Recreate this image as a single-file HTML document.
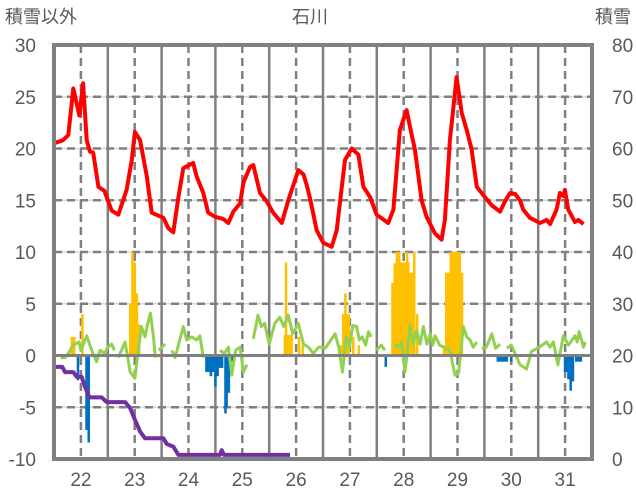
<!DOCTYPE html>
<html><head><meta charset="utf-8">
<style>
body{margin:0;background:#fff;}
svg{display:block;font-family:"Liberation Sans","Noto Sans CJK JP",sans-serif;}
</style></head>
<body>
<svg id="chart" width="636" height="501" viewBox="0 0 636 501">
<g id="grid"></g>
<g id="bars"></g>
<g id="lines"></g>
<g id="axes"></g>
<text x="310" y="23" font-size="18" fill="#595959" text-anchor="middle">石川</text>
<text x="5" y="23" font-size="18" fill="#595959">積雪以外</text>
<text x="631" y="23" font-size="18" fill="#595959" text-anchor="end">積雪</text>
</svg>
<script>
const leftTicks=[30,25,20,15,10,5,0,-5,-10];
const rightTicks=[80,70,60,50,40,30,20,10,0];
const dayLabels=["22","23","24","25","26","27","28","29","30","31"];
// red line: [hour, value]
const redHours=[0,4,6.4,8.6,11.3,13,14.6,16,17.5,19.8,22.5,25.7,28.7,32.4,34.7,36.1,38.4,41.4,43.6,48.8,51,53.2,55.5,57.7,62.1,63.6,66.6,68.8,71.8,75.5,77.8,80,83,84.5,87.4,88.9,91.9,94.9,97.8,101.6,104.5,109,111.3,112.7,114.2,117.2,120.1,123.9,126.1,129.8,132.8,135.8,138,141,143.9,149.1,151.4,154.3,157.3,158.8,161,164,166.2,169.9,172.9,174.4,176.6,179.6,181.9,184.1,186.3,188.6,191.5,195.3,199,201.2,203.4,205.7,207.9,209.3,212.3,216.8,219.7,221.3,224.2,225.7,227.2,227.9,229.4,232.4,233.9,236.2];
const redValues=[20.5,20.8,21.3,25.8,23.2,26.3,20.8,19.7,19.6,16.3,15.9,14,13.6,16,18.9,21.6,20.8,17.3,13.8,13.3,12.3,11.9,15.3,18.1,18.6,17.3,15.7,13.8,13.4,13.2,12.8,13.9,14.7,16.7,18.2,18.4,15.7,14.9,13.8,12.8,15,17.9,17.5,16.5,15.2,12.1,10.9,10.5,12.1,18.9,20,19.4,16.3,15.3,13.6,12.8,14.1,21.8,23.7,22.1,19.9,15,13.4,11.8,11.2,13.1,20.8,26.9,23.4,21.8,19.9,16.3,15.5,14.5,13.9,14.9,15.7,15.6,15,14.1,13.3,12.8,13.1,12.7,14.1,15.7,15.4,16,14.1,12.9,13.1,12.7];
// green line (null = gap)
const greenHours=[3,5,6.4,8.5,11.2,12,14.6,16.8,19,20.5,22.7,24,25.7,27,27.5,28.7,31.7,34,36.1,37.6,39,40.6,41.5,43,44.4,45.2,45.9,46.7,49.6,51,52.6,54,57.7,59.2,61.4,63.6,65.1,66.6,70,74,76,77.8,79.3,81,83,84.5,86,87.4,88.9,91,92.5,94,96,98.5,100.7,102.5,104.5,106.5,109,111.3,113.5,115.7,118,118.7,121,125.4,127,128.7,130.3,131.8,133.3,135,136.2,137.5,139,140.3,141.5,142.5,143.9,146,147.6,150,152,153.5,155,156.6,158.8,160.3,161.8,163.3,164.8,166.3,167.8,169,170,172,176.6,178.9,180.5,182.6,184.1,185.6,187,188.6,189.7,190.8,192.8,195.3,197,199,200.5,202,204,207.9,210.8,213,216.5,219.7,221.3,222.8,224.8,227.2,229.5,232.4,233.4,234.3,236.2,237];
const greenValues=[-0.2,-0.2,0.2,1,1.3,0.5,1.9,0.5,-0.6,0.5,0.2,0.8,1.1,0.5,null,-0.2,1.3,-1.6,-2.2,0.5,2.8,1.8,2.8,4.1,1.8,-0.2,null,0.5,1.1,null,0.5,-0.2,2.8,1.5,1.8,1.5,1.9,-0.2,null,0.5,0.2,0.8,-1.9,0.5,0.8,-1.6,-0.9,null,1.6,3.9,2.8,3.1,1.1,3.1,3.7,2.8,3.9,2.1,3.1,1.1,0.8,0.2,0.8,0.8,0.7,2.1,0.8,-1.6,1.8,0.8,2.9,2.8,1.5,1.8,1,2.3,1.8,null,0.5,1,0.5,null,1.1,0.8,1.3,-1.6,2.9,1.1,2.4,1.1,2.8,1.1,2.1,1,1.9,1,0.5,-1.9,-1.7,2.8,1.8,1.5,0.8,1.3,null,0.7,0.8,2.1,0.7,1.1,null,0.7,1,-0.9,-1.3,0.4,0.8,1.3,0.8,1.3,-0.9,1.9,1,1.9,1.3,2.3,0.8,1.3];
// purple line (right axis, snow depth)
const purpleHours=[0,3.7,4.9,8.6,10.1,12.3,13.8,15.8,21.3,23.5,31.7,33.9,36.1,38.4,40.6,48.8,50.3,53.2,55.5,74,74.8,75.8,105.3];
const purpleValues=[17.8,17.8,16.8,16.8,15.9,15.9,14,11.9,11.9,11,11,9.9,7.6,5.3,4,4,2.9,2.4,0.8,0.8,1.7,0.8,0.8];
// orange bars (positive)
const orangeHours=[8,9,12.7,34,35,36,37,38,103,104,105,106,103.5,109.3,111,128,129,130,130.6,131.5,133.5,136,151,152,153,154,155,156,157,157.5,158,159,160,160.7,162,174,175,176,177,178,179,180,181,182];
const orangeValues=[1.8,1.8,4,5,10,9,6,3,2,2,2,2,9,1.8,1,1,4,6,4,4,1.8,1,7,8.9,10,10,9,9,9,10,9,8,8,10,4,1,8,8,10,10,10,10,10,8];
// blue bars (negative)
const blueHours=[10.7,14.5,15.5,68,69,70,71,72,73,74,75,76.5,77,78,79,80,148,198,199,200,201,202,204,228,229,229.5,230.5,231.5,233,234,235];
const blueValues=[-2.4,-7.2,-8.4,-1.6,-1.6,-2,-1.6,-3,-2,-1.2,-1.2,-5.6,-5,-3.6,-0.6,-0.6,-1.1,-0.6,-0.6,-0.6,-0.6,-0.6,-0.6,-1.6,-1.6,-2.3,-3.4,-2.5,-0.6,-0.6,-0.6];

const NS='http://www.w3.org/2000/svg';
const X0=54,X1=592,Y0=45,Y1=459;
const xs=h=>X0+h*(X1-X0)/240;
const yL=v=>Y1-(v+10)*(Y1-Y0)/40;
const yR=v=>Y1-v*(Y1-Y0)/80;
function mk(tag,attrs,parent){const e=document.createElementNS(NS,tag);for(const k in attrs)e.setAttribute(k,attrs[k]);parent.appendChild(e);return e;}
const grid=document.getElementById('grid'),bars=document.getElementById('bars'),lines=document.getElementById('lines'),axes=document.getElementById('axes');

leftTicks.forEach((t,i)=>{
  const y=yL(t);
  if(t!==30&&t!==-10&&t!==0){
    const l1=mk('line',{x1:X0,x2:X1,y1:y,y2:y,stroke:'#d9d9d9','stroke-width':1.5},grid);
    
    
    const l=mk('line',{x1:X0,x2:X1,y1:y,y2:y,stroke:'#808080','stroke-width':2.5,'stroke-dasharray':'8,5'},grid);
    
    
  }
  const tx=mk('text',{x:36,y:y+7,'font-size':19,fill:'#595959','text-anchor':'end'},axes);
  tx.textContent=t;
  
  
});
rightTicks.forEach(t=>{
  const tx=mk('text',{x:612,y:yR(t)+7,'font-size':19,fill:'#595959'},axes);
  tx.textContent=t;
  
  
});
dayLabels.forEach((d,i)=>{
  const xn=xs(i*24+12);
  const l=mk('line',{x1:xn,x2:xn,y1:Y0,y2:Y1,stroke:'#808080','stroke-width':2.5,'stroke-dasharray':'8,5'},grid);
  
  
  if(i>0){
    const xm=xs(i*24);
    const s=mk('line',{x1:xm,x2:xm,y1:Y0,y2:Y1,stroke:'#808080','stroke-width':2.5},grid);
    
    
  }
  const tx=mk('text',{x:xn,y:486,'font-size':19,fill:'#595959','text-anchor':'middle'},axes);
  tx.textContent=d;
  
  
});
const bw=(X1-X0)/240+0.3;
orangeHours.forEach((h,i)=>{
  const v=orangeValues[i];
  const r=mk('rect',{x:xs(h)-bw/2,y:yL(v),width:bw,height:yL(0)-yL(v),fill:'#ffc000'},bars);
  
  
});
blueHours.forEach((h,i)=>{
  const v=blueValues[i];
  const r=mk('rect',{x:xs(h)-bw/2,y:yL(0),width:bw,height:yL(v)-yL(0),fill:'#0070c0'},bars);
  
  
});
const zl=mk('line',{x1:X0,x2:X1,y1:yL(0),y2:yL(0),stroke:'#808080','stroke-width':3},axes);


function pathFrom(hs,vs,yf){let d='',pen=false;hs.forEach((h,i)=>{const v=vs[i];if(v===null){pen=false;return;}d+=(pen?'L':'M')+xs(h).toFixed(1)+','+yf(v).toFixed(1);pen=true;});return d;}
const g=mk('path',{d:pathFrom(greenHours,greenValues,yL),fill:'none',stroke:'#92d050','stroke-width':3,'stroke-linejoin':'round'},lines);


const p=mk('path',{d:pathFrom(purpleHours,purpleValues,yR),fill:'none',stroke:'#7030a0','stroke-width':4,'stroke-linejoin':'round'},lines);


const r=mk('path',{d:pathFrom(redHours,redValues,yL),fill:'none',stroke:'#ff0000','stroke-width':4,'stroke-linejoin':'round'},lines);


const fr=mk('rect',{x:X0,y:Y0,width:X1-X0,height:Y1-Y0,fill:'none',stroke:'#808080','stroke-width':4},axes);


</script>
</body></html>
